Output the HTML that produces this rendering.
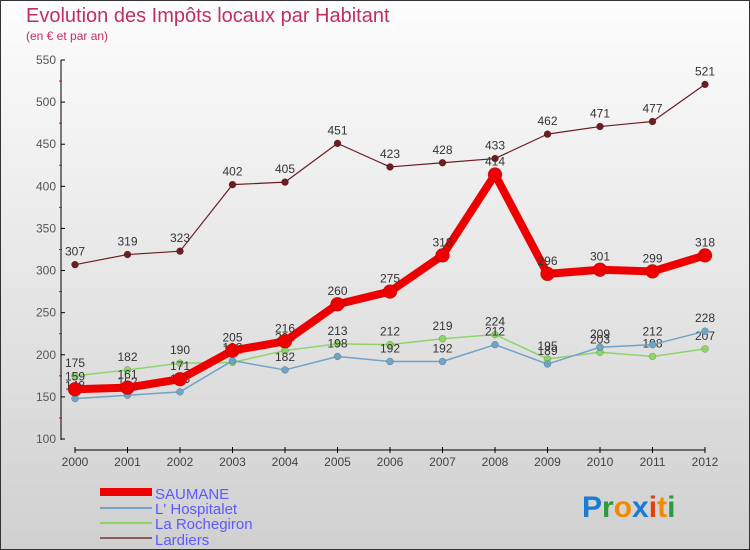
<!DOCTYPE html>
<html><head><meta charset="utf-8"><style>
body{margin:0;width:750px;height:550px;overflow:hidden;font-family:"Liberation Sans",sans-serif}
svg{display:block}
</style></head><body>
<svg id="chart" width="750" height="550" xmlns="http://www.w3.org/2000/svg">
<defs>
<linearGradient id="bg" x1="0" y1="0" x2="0" y2="1"><stop offset="0" stop-color="#fdfdfd"/><stop offset="1" stop-color="#d0d0d0"/></linearGradient>
</defs>
<rect x="0.5" y="0.5" width="749" height="549" fill="url(#bg)" stroke="#333"/>
<text x="26" y="22" font-size="20" fill="#c0305a">Evolution des Impôts locaux par Habitant</text>
<text x="26" y="40" font-size="12" fill="#c0305a">(en € et par an)</text>
<g id="axes"></g>
<g id="series"></g>
<g id="legend">
<rect x="100" y="488" width="52" height="8" fill="#e00"/>
<text x="155" y="499" font-size="15" fill="#5a5aff">SAUMANE</text>
<rect x="100" y="507" width="52" height="2" fill="#6fa3c8"/>
<text x="155" y="514" font-size="15" fill="#5a5aff">L' Hospitalet</text>
<rect x="100" y="522" width="52" height="2" fill="#8ed36a"/>
<text x="155" y="529" font-size="15" fill="#5a5aff">La Rochegiron</text>
<rect x="100" y="537" width="52" height="2" fill="#8b5a5a"/>
<text x="155" y="545" font-size="15" fill="#5a5aff">Lardiers</text>
</g>
<g font-size="30" font-weight="bold">
<text x="582" y="517"><tspan fill="#1a7ad4">P</tspan><tspan fill="#2a9a3a">r</tspan><tspan fill="#f28a00">o</tspan><tspan fill="#1a7ad4">x</tspan><tspan fill="#e04010">i</tspan><tspan fill="#f28a00">t</tspan><tspan fill="#2a9a3a">i</tspan></text>
</g>
</svg>
<script>
const years=[2000,2001,2002,2003,2004,2005,2006,2007,2008,2009,2010,2011,2012];
const yTicks=[100,150,200,250,300,350,400,450,500,550];
const saumane=[159,161,171,205,216,260,275,318,414,296,301,299,318];
const hospitalet=[148,152,156,193,182,198,192,192,212,189,209,212,228];
const rochegiron=[175,182,190,191,205,213,212,219,224,195,203,198,207];
const lardiers=[307,319,323,402,405,451,423,428,433,462,471,477,521];
const NS='http://www.w3.org/2000/svg';
const xS=i=>75+i*52.5;
const yS=v=>439-(v-100)*(379/450);
function mk(tag,attrs,parent){const e=document.createElementNS(NS,tag);for(const k in attrs)e.setAttribute(k,attrs[k]);parent.appendChild(e);return e;}
const ax=document.getElementById('axes');
const ya=mk('line',{x1:61,y1:60,x2:61,y2:440,stroke:'#000'},ax);


yTicks.forEach(v=>{
  mk('line',{x1:61,y1:yS(v),x2:65,y2:yS(v),stroke:'#000'},ax);
  if(v<550){mk('line',{x1:59,y1:yS(v+25),x2:62,y2:yS(v+25),stroke:'#e00'},ax);}
  const t=mk('text',{x:56,y:yS(v)+4,'font-size':12,fill:'#555','text-anchor':'end'},ax);
  t.textContent=v;
  
  
});
const xa=mk('line',{x1:75,y1:450,x2:705,y2:450,stroke:'#000'},ax);


years.forEach((y,i)=>{
  mk('line',{x1:xS(i),y1:447,x2:xS(i),y2:453,stroke:'#000'},ax);
  const t=mk('text',{x:xS(i),y:466,'font-size':12,fill:'#444','text-anchor':'middle'},ax);
  t.textContent=y;
  
  
});
const sg=document.getElementById('series');
function series(vals,color,w,r,name){
  const g=mk('g',{},sg);
  
  
  const pl=mk('polyline',{points:vals.map((v,i)=>xS(i)+','+yS(v)).join(' '),fill:'none',stroke:color,'stroke-width':w,'stroke-linejoin':'round'},g);
  
  
  vals.forEach((v,i)=>{
    const c=mk('circle',{cx:xS(i),cy:yS(v),r:r,fill:color,stroke:'rgba(0,0,0,0.3)','stroke-width':0.5},g);
    
    
    const t=mk('text',{x:xS(i),y:yS(v)-9,'font-size':12,fill:'#333','text-anchor':'middle'},g);
    t.textContent=v;
    
    
  });
}
series(lardiers,'#6b1d22',1.2,3.5,'lardiers');
series(rochegiron,'#8ed36a',1.5,3.5,'rochegiron');
series(hospitalet,'#6fa3c8',1.5,3.5,'hospitalet');
series(saumane,'#ee0000',8,7,'saumane');
</script>
</body></html>
